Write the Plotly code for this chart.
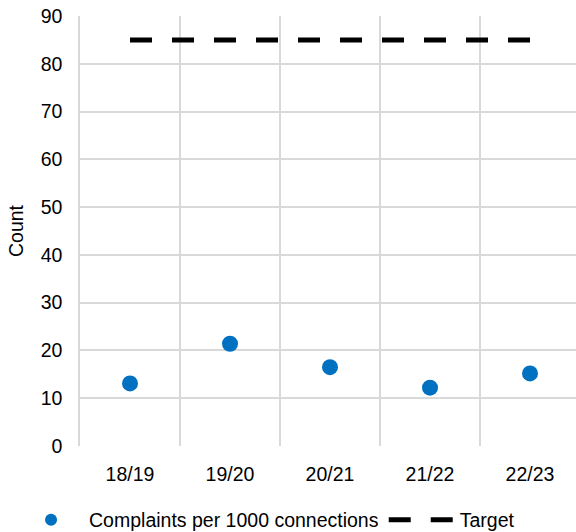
import plotly.graph_objects as go

categories = ["18/19", "19/20", "20/21", "21/22", "22/23"]
complaints = [13.1, 21.4, 16.5, 12.2, 15.2]
target = [85, 85, 85, 85, 85]

FONT = "Liberation Sans, Arial, sans-serif"

fig = go.Figure()
fig.add_trace(go.Scatter(
    x=categories, y=complaints, mode="markers",
    name="Complaints per 1000 connections",
    marker=dict(color="#0070C0", size=16),
))
fig.add_trace(go.Scatter(
    x=categories, y=target, mode="lines", name="Target",
    line=dict(color="black", width=5, dash="22px,20px"),
))

fig.update_layout(
    width=576, height=532,
    margin=dict(l=80, r=0, t=16, b=86, autoexpand=False),
    paper_bgcolor="white", plot_bgcolor="white",
    font=dict(family=FONT, size=19.5, color="black"),
    showlegend=True,
    legend=dict(orientation="h", x=-0.135, xanchor="left", y=-0.172, yanchor="middle",
                font=dict(size=19.5), itemsizing="constant", itemwidth=66),
)
fig.update_xaxes(
    type="category", range=[-0.5, 4.46], tickson="boundaries", automargin=False,
    showgrid=True, gridcolor="#D9D9D9", gridwidth=1.5,
    ticks="", ticklabelstandoff=14,
)
fig.update_yaxes(
    range=[0, 90], dtick=10, showgrid=True, gridcolor="#D9D9D9", gridwidth=1.5,
    showline=True, linecolor="#D9D9D9", linewidth=1.5, automargin=False,
    zeroline=False, ticks="", ticklabelstandoff=12,
    title=dict(text="Count", font=dict(size=19.5), standoff=12),
)
fig.write_html("out.html", config={"displayModeBar": False},
               post_script="document.body.style.margin='0';")
